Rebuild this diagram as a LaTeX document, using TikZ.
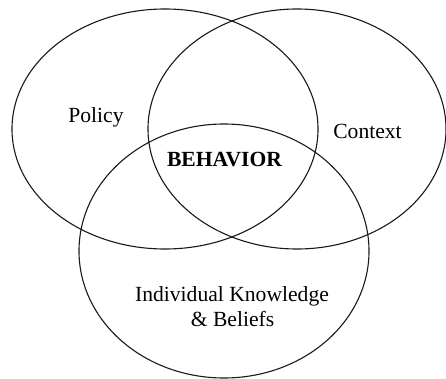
\documentclass[tikz,border=0pt]{standalone}
\usepackage{fontspec}
\setmainfont{Liberation Serif}
\usetikzlibrary{shapes.geometric}
\begin{document}
\begin{tikzpicture}[x=1pt,y=-1pt,
  venn/.style={ellipse,draw=black!90,line width=1.1pt,inner sep=0pt},
  lbl/.style={font=\fontsize{21.6}{24.3}\selectfont,anchor=base,inner sep=0pt,align=center}]
\useasboundingbox (0,0) rectangle (446,379);
\node[venn,minimum width=306pt,minimum height=240pt] (policyE) at (165,129) {};
\node[venn,minimum width=298pt,minimum height=240pt] (contextE) at (297,129) {};
\node[venn,minimum width=290pt,minimum height=254pt] (indivE) at (224,251) {};
\node[lbl] (policy) at (96,122.7) {Policy};
\node[lbl] (context) at (367.5,138.3) {Context};
\node[lbl,font=\fontsize{21.6}{24.3}\selectfont\bfseries] (behavior) at (224.5,166.7) {BEHAVIOR};
\node[lbl] (indiv) at (232,301.7) {Individual Knowledge};
\node[lbl] (beliefs) at (232.5,326) {\& Beliefs};
\end{tikzpicture}
\end{document}
